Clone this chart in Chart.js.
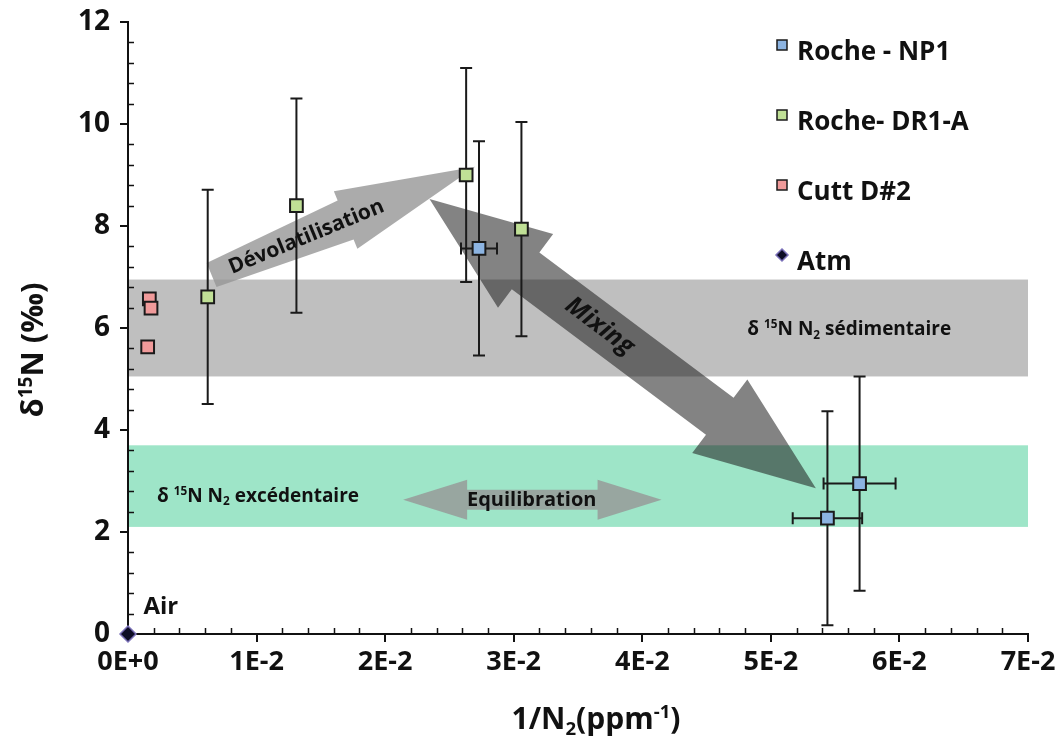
<!DOCTYPE html>
<html>
<head>
<meta charset="utf-8">
<script src="https://cdn.jsdelivr.net/npm/chart.js@4.4.0/dist/chart.umd.min.js"></script>
<style>
  html, body { margin: 0; padding: 0; background: #fff; }
</style>
</head>
<body>
<canvas id="grafico" width="1059" height="736"></canvas>
<script>
// valori
var np1X = [0.0273, 0.0544, 0.0569];
var np1Y = [7.56, 2.27, 2.95];
var np1ErrY = [2.1, 2.1, 2.1];
var np1ErrX = [0.0014, 0.0027, 0.0028];

var dr1X = [0.0062, 0.0131, 0.0263, 0.0306];
var dr1Y = [6.61, 8.40, 9.00, 7.94];
var dr1ErrY = [2.1, 2.1, 2.1, 2.1];

var cuttX = [0.00166, 0.00179, 0.00153];
var cuttY = [6.57, 6.39, 5.63];

var atmX = [0];
var atmY = [0];

var seriesNames = ['Roche - NP1', 'Roche- DR1-A', 'Cutt D#2', 'Atm'];
var xTickLabels = ['0E+0', '1E-2', '2E-2', '3E-2', '4E-2', '5E-2', '6E-2', '7E-2'];
var yTickLabels = ['0', '2', '4', '6', '8', '10', '12'];

// bande (valori delta 15N)
var bandSed = [5.05, 6.95];
var bandExc = [2.1, 3.7];

var FONT = "'Open Sans', sans-serif";
var INK = '#111';

function punti(xs, ys) {
    var out = [];
    for (var i = 0; i < xs.length; i++) out.push({ x: xs[i], y: ys[i] });
    return out;
}

// frecce in coordinate dei dati
var frecce = [
    { from: [0.0065, 7.04], to: [0.0270, 9.16], tail: 13, neck: 21, head: 31, headLen: 140, doppia: false, color: 'rgba(150,150,150,0.8)' },
    { from: [0.0535, 2.86], to: [0.02345, 8.53], tail: 23, neck: 23, head: 46, headLen: 120, doppia: true, color: 'rgba(30,30,30,0.55)' },
    { from: [0.0214, 2.63], to: [0.0415, 2.63], tail: 10, neck: 10, head: 20, headLen: 64, doppia: true, color: 'rgba(150,150,150,0.8)' }
];

function px(chart, x, y) {
    return [chart.scales.x.getPixelForValue(x), chart.scales.y.getPixelForValue(y)];
}

function disegnaFreccia(ctx, p0, p1, o) {
    var dx = p1[0] - p0[0], dy = p1[1] - p0[1];
    var L = Math.sqrt(dx * dx + dy * dy);
    var ux = dx / L, uy = dy / L, nx = -uy, ny = ux;
    function P(a, b) { return [p0[0] + ux * a + nx * b, p0[1] + uy * a + ny * b]; }
    var pts;
    if (o.doppia) {
        pts = [P(0, 0), P(o.headLen, -o.head), P(o.headLen, -o.neck), P(L - o.headLen, -o.neck), P(L - o.headLen, -o.head),
               P(L, 0), P(L - o.headLen, o.head), P(L - o.headLen, o.neck), P(o.headLen, o.neck), P(o.headLen, o.head)];
    } else {
        pts = [P(0, -o.tail), P(L - o.headLen, -o.neck), P(L - o.headLen, -o.head), P(L, 0),
               P(L - o.headLen, o.head), P(L - o.headLen, o.neck), P(0, o.tail)];
    }
    ctx.beginPath();
    ctx.moveTo(pts[0][0], pts[0][1]);
    for (var i = 1; i < pts.length; i++) ctx.lineTo(pts[i][0], pts[i][1]);
    ctx.closePath();
    ctx.fillStyle = o.color;
    ctx.fill();
}

// testo con apici e pedici: runs = [[testo, 'n'|'sup'|'sub'], ...]
function testoRicco(ctx, runs, x, y, size, align, weight) {
    weight = weight || 'bold';
    var w = 0, parti = [];
    for (var i = 0; i < runs.length; i++) {
        var s = runs[i][1] === 'n' ? size : size * 0.62;
        ctx.font = weight + ' ' + s + 'px ' + FONT;
        var mw = ctx.measureText(runs[i][0]).width;
        parti.push({ t: runs[i][0], tipo: runs[i][1], s: s, w: mw });
        w += mw;
    }
    var cx = align === 'left' ? x : (align === 'right' ? x - w : x - w / 2);
    var base = y + size * 0.36;
    ctx.textAlign = 'left';
    ctx.textBaseline = 'alphabetic';
    ctx.fillStyle = INK;
    for (var j = 0; j < parti.length; j++) {
        var p = parti[j];
        var dy = p.tipo === 'sup' ? -size * 0.36 : (p.tipo === 'sub' ? size * 0.2 : 0);
        ctx.font = weight + ' ' + p.s + 'px ' + FONT;
        ctx.fillText(p.t, cx, base + dy);
        cx += p.w;
    }
}

function testoRuotato(ctx, testo, x, y, ang, font) {
    ctx.save();
    ctx.translate(x, y);
    ctx.rotate(ang);
    ctx.font = font;
    ctx.fillStyle = INK;
    ctx.textAlign = 'center';
    ctx.textBaseline = 'middle';
    ctx.fillText(testo, 0, 0);
    ctx.restore();
}

function barreErrore(chart, ctx, xs, ys, errY, errX) {
    ctx.strokeStyle = '#1a1a1a';
    ctx.lineWidth = 2;
    for (var i = 0; i < xs.length; i++) {
        var c = px(chart, xs[i], ys[i]);
        if (errY) {
            var top = chart.scales.y.getPixelForValue(ys[i] + errY[i]);
            var bot = chart.scales.y.getPixelForValue(ys[i] - errY[i]);
            ctx.beginPath();
            ctx.moveTo(c[0], top); ctx.lineTo(c[0], bot);
            ctx.moveTo(c[0] - 6, top); ctx.lineTo(c[0] + 6, top);
            ctx.moveTo(c[0] - 6, bot); ctx.lineTo(c[0] + 6, bot);
            ctx.stroke();
        }
        if (errX) {
            var l = chart.scales.x.getPixelForValue(xs[i] - errX[i]);
            var r = chart.scales.x.getPixelForValue(xs[i] + errX[i]);
            ctx.beginPath();
            ctx.moveTo(l, c[1]); ctx.lineTo(r, c[1]);
            ctx.moveTo(l, c[1] - 6); ctx.lineTo(l, c[1] + 6);
            ctx.moveTo(r, c[1] - 6); ctx.lineTo(r, c[1] + 6);
            ctx.stroke();
        }
    }
}

var pluginDecorazioni = {
    id: 'decorazioni',
    beforeDraw: function (chart) {
        var ctx = chart.ctx, a = chart.chartArea, ys = chart.scales.y;
        ctx.save();
        ctx.fillStyle = '#bfbfbf';
        var t = ys.getPixelForValue(bandSed[1]), b = ys.getPixelForValue(bandSed[0]);
        ctx.fillRect(a.left, t, a.right - a.left, b - t);
        ctx.fillStyle = '#9ee5c8';
        t = ys.getPixelForValue(bandExc[1]); b = ys.getPixelForValue(bandExc[0]);
        ctx.fillRect(a.left, t, a.right - a.left, b - t);
        ctx.restore();
    },
    beforeDatasetsDraw: function (chart) {
        var ctx = chart.ctx, a = chart.chartArea;
        var xs = chart.scales.x, ys = chart.scales.y;
        ctx.save();
        // tacche secondarie interne
        ctx.strokeStyle = INK;
        ctx.lineWidth = 1.5;
        ctx.beginPath();
        for (var v = 0.4; v < 12; v += 0.4) {
            if (Math.abs(v / 2 - Math.round(v / 2)) < 0.01) continue;
            var yy = Math.round(ys.getPixelForValue(v)) + 0.5;
            ctx.moveTo(a.left, yy); ctx.lineTo(a.left + 6, yy);
        }
        for (var k = 1; k < 35; k++) {
            if (k % 5 === 0) continue;
            var xx = Math.round(xs.getPixelForValue(k * 0.002)) + 0.5;
            ctx.moveTo(xx, a.bottom); ctx.lineTo(xx, a.bottom - 6);
        }
        ctx.stroke();

        // frecce
        for (var i = 0; i < frecce.length; i++) {
            var f = frecce[i];
            disegnaFreccia(ctx, px(chart, f.from[0], f.from[1]), px(chart, f.to[0], f.to[1]), f);
        }

        // scritte sulle frecce
        var d0 = px(chart, frecce[0].from[0], frecce[0].from[1]), d1 = px(chart, frecce[0].to[0], frecce[0].to[1]);
        var angD = Math.atan2(d1[1] - d0[1], d1[0] - d0[0]);
        testoRuotato(ctx, 'Dévolatilisation', d0[0] + (d1[0] - d0[0]) * 0.36, d0[1] + (d1[1] - d0[1]) * 0.36 + 1, angD, 'bold 21px ' + FONT);

        var m0 = px(chart, frecce[1].to[0], frecce[1].to[1]), m1 = px(chart, frecce[1].from[0], frecce[1].from[1]);
        var angM = Math.atan2(m1[1] - m0[1], m1[0] - m0[0]);
        testoRuotato(ctx, 'Mixing', m0[0] + (m1[0] - m0[0]) * 0.44, m0[1] + (m1[1] - m0[1]) * 0.44, angM, 'italic bold 25px ' + FONT);

        var e = px(chart, 0.0314, 2.63);
        testoRuotato(ctx, 'Equilibration', e[0], e[1], 0, 'bold 20px ' + FONT);

        // scritte delle bande
        var s = px(chart, 0.0561, 6.0);
        testoRicco(ctx, [['δ ', 'n'], ['15', 'sup'], ['N N', 'n'], ['2', 'sub'], [' sédimentaire', 'n']], s[0], s[1], 19, 'center');
        var q = px(chart, 0.00226, 2.73);
        testoRicco(ctx, [['δ ', 'n'], ['15', 'sup'], ['N N', 'n'], ['2', 'sub'], [' excédentaire', 'n']], q[0], q[1], 19, 'left');

        var air = px(chart, 0.0012, 0.57);
        testoRicco(ctx, [['Air', 'n']], air[0], air[1], 24, 'left');

        // barre di errore
        barreErrore(chart, ctx, np1X, np1Y, np1ErrY, np1ErrX);
        barreErrore(chart, ctx, dr1X, dr1Y, dr1ErrY, null);
        ctx.restore();
    },
    afterDraw: function (chart) {
        var ctx = chart.ctx, a = chart.chartArea;
        ctx.save();
        // titoli assi
        testoRicco(ctx, [['1/N', 'n'], ['2', 'sub'], ['(ppm', 'n'], ['-1', 'sup'], [')', 'n']], 596, 718, 30, 'center');
        ctx.save();
        ctx.translate(32, 350);
        ctx.rotate(-Math.PI / 2);
        testoRicco(ctx, [['δ', 'n'], ['15', 'sup'], ['N (‰)', 'n']], 0, 0, 31, 'center');
        ctx.restore();

        // legenda
        var ds = chart.data.datasets;
        for (var i = 0; i < ds.length; i++) {
            var ty = 53 + i * 70;
            var mx = 782, my = ty - 8;
            ctx.fillStyle = ds[i].backgroundColor;
            ctx.strokeStyle = ds[i].borderColor;
            ctx.lineWidth = 1.5;
            if (ds[i].pointStyle === 'rectRot') {
                ctx.beginPath();
                ctx.moveTo(mx, my - 6); ctx.lineTo(mx + 6, my); ctx.lineTo(mx, my + 6); ctx.lineTo(mx - 6, my);
                ctx.closePath(); ctx.fill(); ctx.stroke();
            } else {
                ctx.fillRect(mx - 5, my - 5, 10, 10);
                ctx.strokeRect(mx - 5, my - 5, 10, 10);
            }
            ctx.font = 'bold 26px ' + FONT;
            ctx.fillStyle = INK;
            ctx.textAlign = 'left';
            ctx.textBaseline = 'middle';
            ctx.fillText(ds[i].label, 797, ty);
        }
        ctx.restore();
    }
};

var chartCanvas = document.getElementById('grafico');
var grafico = new Chart(chartCanvas, {
    type: 'scatter',
    data: {
        datasets: [{
            label: seriesNames[0],
            data: punti(np1X, np1Y),
            backgroundColor: '#8cb4e2',
            borderColor: '#1a1a1a',
            borderWidth: 2,
            pointStyle: 'rect',
            pointRadius: 9
        }, {
            label: seriesNames[1],
            data: punti(dr1X, dr1Y),
            backgroundColor: '#c0e096',
            borderColor: '#1a1a1a',
            borderWidth: 2,
            pointStyle: 'rect',
            pointRadius: 9
        }, {
            label: seriesNames[2],
            data: punti(cuttX, cuttY),
            backgroundColor: '#f09a9a',
            borderColor: '#1a1a1a',
            borderWidth: 2,
            pointStyle: 'rect',
            pointRadius: 9
        }, {
            label: seriesNames[3],
            data: punti(atmX, atmY),
            backgroundColor: '#0d0d26',
            borderColor: '#7a70b8',
            borderWidth: 1.5,
            pointStyle: 'rectRot',
            pointRadius: 8
        }]
    },
    options: {
        responsive: false,
        animation: false,
        devicePixelRatio: 1,
        clip: false,
        layout: { autoPadding: false, padding: { top: 22, right: 31, left: 0, bottom: 0 } },
        plugins: { legend: { display: false }, tooltip: { enabled: false } },
        scales: {
            x: {
                type: 'linear',
                min: 0,
                max: 0.07,
                ticks: {
                    stepSize: 0.01,
                    color: INK,
                    padding: 4,
                    maxRotation: 0,
                    font: { family: FONT, size: 27, weight: 'bold' },
                    callback: function (v) { return xTickLabels[Math.round(v * 100)]; }
                },
                grid: { display: true, drawOnChartArea: false, drawTicks: true, tickLength: 8, color: INK, lineWidth: 2 },
                border: { display: true, color: INK, width: 2 },
                afterFit: function (s) { s.height = 102; s.paddingLeft = 0; s.paddingRight = 0; }
            },
            y: {
                min: 0,
                max: 12,
                ticks: {
                    stepSize: 2,
                    color: INK,
                    padding: 10,
                    font: { family: FONT, size: 28, weight: 'bold' },
                    callback: function (v) { return yTickLabels[Math.round(v / 2)]; }
                },
                grid: { display: true, drawOnChartArea: false, drawTicks: true, tickLength: 8, color: INK, lineWidth: 2 },
                border: { display: true, color: INK, width: 2 },
                afterFit: function (s) { s.width = 128; s.paddingTop = 0; s.paddingBottom = 0; }
            }
        }
    },
    plugins: [pluginDecorazioni]
});
</script>
</body>
</html>
